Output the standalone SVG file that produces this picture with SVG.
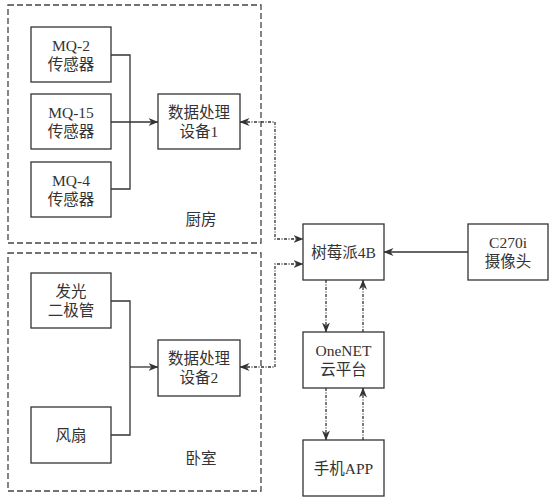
<svg xmlns="http://www.w3.org/2000/svg" width="552" height="501" viewBox="0 0 552 501">
<defs>
<marker id="ah" viewBox="0 0 10 8" refX="9.5" refY="4" markerWidth="10" markerHeight="8" markerUnits="userSpaceOnUse" orient="auto-start-reverse">
<path d="M0,0 L10,4 L0,8 L3,4 z" fill="#333"/>
</marker>
<style>
.box{fill:#fff;stroke:#333;stroke-width:1.3}
.area{fill:none;stroke:#444;stroke-width:1.3;stroke-dasharray:6 3}
.t{font-family:"Liberation Serif","Noto Sans CJK SC",serif;font-size:15.5px;fill:#333;text-anchor:middle}
.solid{fill:none;stroke:#333;stroke-width:1.3}
.dot{fill:none;stroke:#333;stroke-width:1.3;stroke-dasharray:3 1.5 1 1.5}
</style>
</defs>
<rect width="552" height="501" fill="#fff"/>
<g id="kitchen">
<rect class="area" x="8" y="5" width="253" height="238"/>
<text class="t" x="201" y="224.5">厨房</text>
</g>
<g id="bedroom">
<rect class="area" x="8" y="253" width="253" height="238"/>
<text class="t" x="201" y="463.5">卧室</text>
</g>
<g id="connectors">
<path class="solid" d="M111,55 H130 V189 H111"/>
<path class="solid" d="M111,122 H158" marker-end="url(#ah)"/>
<path class="solid" d="M111,301 H130 V435 H111"/>
<path class="solid" d="M130,367 H158" marker-end="url(#ah)"/>
<path class="dot" d="M240,122 H275 V239 H303" marker-start="url(#ah)" marker-end="url(#ah)"/>
<path class="dot" d="M240,367 H275 V264 H303" marker-start="url(#ah)" marker-end="url(#ah)"/>
<path class="solid" d="M468,252 H384" marker-end="url(#ah)"/>
<path class="dot" d="M326,280 V332" marker-end="url(#ah)"/>
<path class="dot" d="M363,332 V280" marker-end="url(#ah)"/>
<path class="dot" d="M326,388 V440" marker-end="url(#ah)"/>
<path class="dot" d="M363,440 V388" marker-end="url(#ah)"/>
</g>
<g id="mq2">
<rect class="box" x="31" y="27" width="80" height="55"/>
<text class="t" x="71" y="50.5">MQ-2</text>
<text class="t" x="71" y="69.5">传感器</text>
</g>
<g id="mq15">
<rect class="box" x="31" y="94" width="80" height="55"/>
<text class="t" x="71" y="117.5">MQ-15</text>
<text class="t" x="71" y="136.5">传感器</text>
</g>
<g id="mq4">
<rect class="box" x="31" y="162" width="80" height="55"/>
<text class="t" x="71" y="185.5">MQ-4</text>
<text class="t" x="71" y="204.5">传感器</text>
</g>
<g id="dev1">
<rect class="box" x="158" y="94" width="82" height="55"/>
<text class="t" x="199" y="117.5">数据处理</text>
<text class="t" x="199" y="136.5">设备1</text>
</g>
<g id="led">
<rect class="box" x="31" y="273" width="80" height="55"/>
<text class="t" x="71" y="296.5">发光</text>
<text class="t" x="71" y="315.5">二极管</text>
</g>
<g id="fan">
<rect class="box" x="31" y="407" width="80" height="56"/>
<text class="t" x="71" y="440.5">风扇</text>
</g>
<g id="dev2">
<rect class="box" x="158" y="340" width="82" height="56"/>
<text class="t" x="199" y="364">数据处理</text>
<text class="t" x="199" y="383">设备2</text>
</g>
<g id="pi">
<rect class="box" x="303" y="224" width="81" height="56"/>
<text class="t" x="343.5" y="257.5">树莓派4B</text>
</g>
<g id="camera">
<rect class="box" x="468" y="224" width="80" height="56"/>
<text class="t" x="508" y="247.5">C270i</text>
<text class="t" x="508" y="266.5">摄像头</text>
</g>
<g id="onenet">
<rect class="box" x="303" y="332" width="81" height="56"/>
<text class="t" x="343.5" y="356">OneNET</text>
<text class="t" x="343.5" y="375">云平台</text>
</g>
<g id="app">
<rect class="box" x="303" y="440" width="81" height="56"/>
<text class="t" x="343.5" y="473.5">手机APP</text>
</g>
</svg>
